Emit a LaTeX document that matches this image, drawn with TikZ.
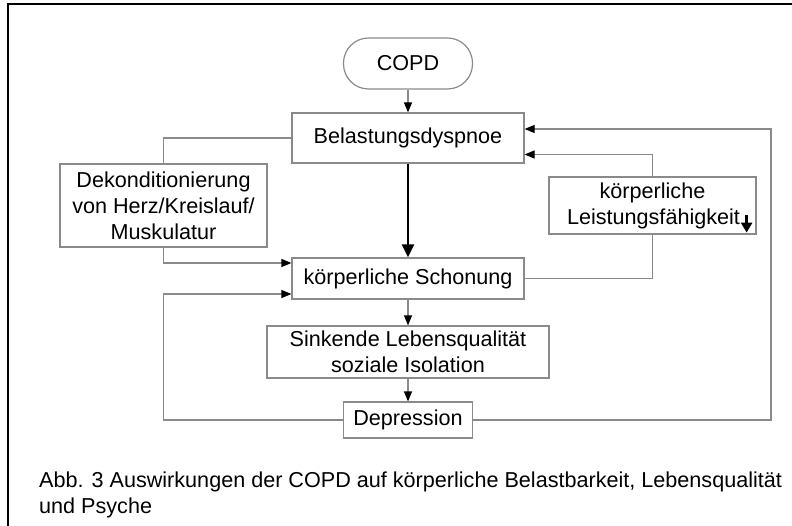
\documentclass[tikz,border=0pt]{standalone}
\usepackage{fontspec}
\setmainfont{Liberation Sans}
\usetikzlibrary{arrows.meta,calc}
\definecolor{boxgray}{HTML}{8A8A8A}

\begin{document}
\begin{tikzpicture}[x=1pt,y=-1pt,
  txt/.style={font=\fontsize{21.6}{26}\selectfont, text=black},
  box/.style={txt, draw=boxgray, line width=1.2pt, inner sep=0pt, align=center},
  link/.style={draw=boxgray, line width=1.2pt},
  arr/.style={-{Triangle[length=10pt,width=8pt,color=black]}},
  thickarr/.style={draw=black, line width=2.5pt, -{Triangle[length=13pt,width=12pt]}}]

\useasboundingbox (0,0) rectangle (792,526);

% outer frame
\draw[line width=2pt] (8,530) -- (8,4) -- (800,4);

% boxes
\node[box, rounded corners=25pt, minimum width=129pt, minimum height=51pt] (copd) at (408,63.5) {COPD};
\node[box, minimum width=232pt, minimum height=50pt] (bel) at (408,138) {Belastungsdyspnoe};
\node[box, minimum width=207pt, minimum height=83pt] (dek) at (163.5,205.5)
  {Dekonditionierung\\von Herz/Kreislauf/\\Muskulatur};
\node[box, minimum width=207pt, minimum height=57pt] (lf) at (652.5,205.5)
  {körperliche\\\hspace*{2pt}Leistungsfähigkeit};
\node[box, minimum width=232pt, minimum height=41pt] (sch) at (408,278.5) {körperliche Schonung};
\node[box, minimum width=282pt, minimum height=52pt] (sink) at (408,352)
  {Sinkende Lebensqualität\\soziale Isolation};
\node[box, minimum width=129pt, minimum height=36pt] (dep) at (408,420) {Depression};

% the bold downward arrow after "Leistungsfähigkeit"
\draw[line width=2.6pt, -{Triangle[length=10pt,width=11pt]}]
  ($(lf.south east)+(-10,-20)$) -- ($(lf.south east)+(-10,-2)$);

% connector end points
\coordinate (belR1) at ($(bel.east)+(0,-9)$);
\coordinate (belR2) at ($(bel.east)+(0,16.5)$);
\coordinate (schL1) at ($(sch.west)+(0,-15.5)$);
\coordinate (schL2) at ($(sch.west)+(0,15.5)$);
\coordinate (outerR) at (771,420);
\coordinate (outerL) at (163.5,420);

% main chain
\draw[link, arr] (copd) -- (bel);
\draw[thickarr] (bel) -- (sch);
\draw[link, arr] (sch) -- (sink);
\draw[link, arr] (sink) -- (dep);

% left loop via deconditioning
\draw[link] (dek.north) |- (bel.west);
\draw[link, arr] (dek.south) |- (schL1);

% right loop via performance
\draw[link] (sch.east) -| (lf.south);
\draw[link, arr] (lf.north) |- (belR2);

% feedback from depression
\draw[link, arr] (dep.east) -- (outerR) |- (belR1);
\draw[link, arr] (dep.west) -- (outerL) |- (schL2);

% caption
\node[txt, anchor=base west, inner sep=0pt] (cap1) at (39,487)
  {Abb. 3 Auswirkungen der COPD auf körperliche Belastbarkeit, Lebensqualität};
\node[txt, anchor=base west, inner sep=0pt] (cap2) at (39,513) {und Psyche};
\end{tikzpicture}
\end{document}
